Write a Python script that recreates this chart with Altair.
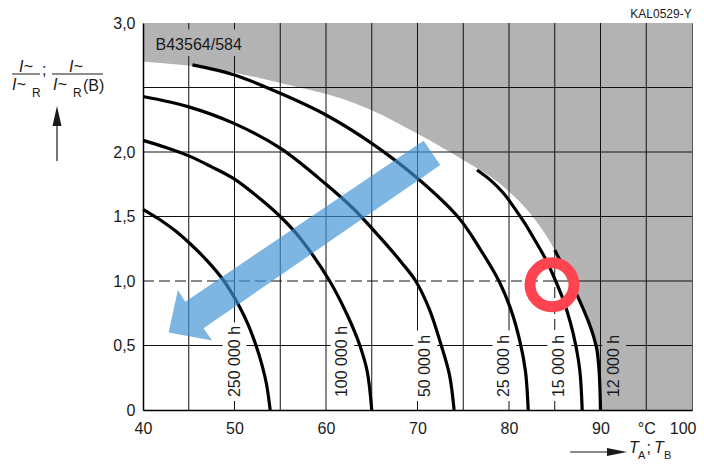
import altair as alt
import pandas as pd

FONT = "Liberation Sans"
INK = "#1a1a1a"
GRAY = "#b3b3b3"
BLUE = "#3f93d4"
RED = "#ff4451"

# ---------------- axes / grid ----------------
x_ticks = [40, 50, 60, 70, 80, 90, 95, 100]
y_ticks = [0, 0.5, 1.0, 1.5, 2.0, 3.0]
v_grid_T = [45, 50, 55, 60, 65, 70, 75, 80, 90, 95]
h_grid_v = [0.5, 1.5, 2.0, 2.5]
ref_T = 85.0     # marked temperature (dashed)
ref_v = 1.0      # marked current ratio (dashed)

# ---------------- lifetime curves ----------------
names = ["250 000 h", "100 000 h", "50 000 h", "25 000 h", "15 000 h", "12 000 h"]
t_250k = [40.0, 41.9, 43.6, 45.3, 47.1, 48.85, 50.55, 51.5, 52.35, 53.0, 53.5, 53.9]
v_250k = [1.556, 1.473, 1.385, 1.279, 1.15, 1.0, 0.8, 0.66, 0.5, 0.35, 0.2, 0.0]
t_100k = [40.0, 42.5, 45.0, 47.5, 50.0, 52.5, 55.0, 57.2, 60.4, 62.3, 63.7, 64.5, 65.0]
v_100k = [2.09, 2.035, 1.97, 1.885, 1.79, 1.655, 1.5, 1.33, 1.0, 0.74, 0.5, 0.3, 0.0]
t_50k = [40.0, 45.0, 50.0, 55.0, 60.0, 63.0, 66.0, 68.3, 69.8, 71.3, 72.6, 73.5, 74.0]
v_50k = [2.43, 2.35, 2.22, 2.03, 1.75, 1.56, 1.33, 1.14, 1.0, 0.78, 0.5, 0.27, 0.0]
t_25k = [45.4, 50.0, 55.0, 60.0, 65.0, 70.0, 74.5, 77.0, 78.9, 80.2, 81.2, 81.8, 82.1]
v_25k = [2.675, 2.597, 2.455, 2.287, 2.067, 1.796, 1.49, 1.23, 1.0, 0.78, 0.53, 0.3, 0.0]
t_15k = [76.5, 78.0, 79.4, 80.6, 81.7, 82.8, 84.0, 85.1, 86.0, 86.7, 87.3, 87.75, 88.0]
v_15k = [1.86, 1.78, 1.68, 1.565, 1.45, 1.32, 1.17, 1.0, 0.84, 0.68, 0.5, 0.3, 0.0]
t_12k = [85.0, 86.0, 87.0, 87.8, 88.6, 89.2, 89.6, 89.85, 90.0]
v_12k = [1.24, 1.1, 0.955, 0.835, 0.7, 0.58, 0.47, 0.3, 0.0]
curve_T = [t_250k, t_100k, t_50k, t_25k, t_15k, t_12k]
curve_v = [v_250k, v_100k, v_50k, v_25k, v_15k, v_12k]
label_T = [50.0, 61.8, 70.85, 79.5, 85.5, 91.5]

# ---------------- limit envelope (grey region) ----------------
env_T = [40.0, 45.0, 50.0, 55.0, 58.3, 61.6, 64.8, 69.9, 75.0, 79.4, 82.3, 84.0, 85.0]
env_v = [2.70, 2.67, 2.615, 2.535, 2.48, 2.416, 2.33, 2.145, 1.938, 1.731, 1.525, 1.36, 1.24]

# ---------------- blue arrow (polygon) & red marker ----------------
arrow_T = [70.67, 72.49, 46.62, 47.55, 42.8, 43.81, 44.62]
arrow_v = [2.088, 1.899, 0.633, 0.539, 0.601, 0.930, 0.839]
ring_T = [84.7]
ring_v = [0.97]

model = "B43564/584"
model_T, model_v = 41.37, 2.79
code = "KAL0529-Y"

# =====================================================
xs = alt.Scale(domain=[40, 100], nice=False, zero=False)
ys = alt.Scale(domain=[0, 3], nice=False, zero=False)
x_axis = alt.Axis(values=x_ticks, labelExpr="datum.value == 95 ? '°C' : datum.label",
                  labelAlign={"condition": {"test": "datum.value == 100", "value": "right"},
                              "value": "center"},
                  labelOffset={"condition": {"test": "datum.value == 100", "value": 4},
                               "value": 0},
                  grid=False, ticks=False, tickSize=0, domainColor="black", domainWidth=1.5,
                  labelFont=FONT, labelFontSize=16, labelColor=INK, labelPadding=10,
                  labelFlush=False, labelOverlap=False, title=None, zindex=1)
y_axis = alt.Axis(values=y_ticks,
                  labelExpr="datum.value == 0 ? '0' : replace(format(datum.value, '.1f'), '.', ',')",
                  grid=False, ticks=False, tickSize=0, domainColor="black", domainWidth=1.5,
                  labelFont=FONT, labelFontSize=16, labelColor=INK, labelPadding=8,
                  labelFlush=False, labelOverlap=False, title=None, zindex=1)


def X(f):
    return alt.X(f, type="quantitative", scale=xs, axis=x_axis, title=None)


def Y(f):
    return alt.Y(f, type="quantitative", scale=ys, axis=y_axis, title=None)


layers = []

# grey region
gray_df = pd.DataFrame({"T": env_T + t_12k[1:] + [100.0],
                        "v": env_v + v_12k[1:] + [0.0]})
gray_df["top"] = 3.0
layers.append(alt.Chart(gray_df).mark_area(color=GRAY, interpolate="monotone", opacity=1)
              .encode(x=X("T"), y=Y("v"), y2="top"))

# grid
solid_rows = [(t, t, 0.0, 3.0) for t in v_grid_T] + [(ref_T, ref_T, ref_v, 3.0)]
solid_rows += [(40.0, 100.0, v, v) for v in h_grid_v] + [(ref_T, 100.0, ref_v, ref_v)]
solid_df = pd.DataFrame(solid_rows, columns=["T", "T2", "v", "v2"])
layers.append(alt.Chart(solid_df).mark_rule(color="#111", strokeWidth=1)
              .encode(x=X("T"), x2="T2", y=Y("v"), y2="v2"))
dash_df = pd.DataFrame([(ref_T, ref_T, 0.0, ref_v), (40.0, ref_T, ref_v, ref_v)],
                       columns=["T", "T2", "v", "v2"])
layers.append(alt.Chart(dash_df).mark_rule(color="#111", strokeWidth=1, strokeDash=[11, 5])
              .encode(x=X("T"), x2="T2", y=Y("v"), y2="v2"))

# label backgrounds
box_df = pd.DataFrame({"T": [t - 1.3 for t in label_T], "T2": [t + 1.3 for t in label_T],
                       "v": [0.07] * 6, "v2": [0.12 + 0.062 * len(n) for n in names],
                       "fill": ["white"] * 5 + [GRAY]})
layers.append(alt.Chart(box_df).mark_rect(opacity=1)
              .encode(x=X("T"), x2="T2", y=Y("v"), y2="v2", color=alt.Color("fill:N", scale=None)))
model_box = pd.DataFrame({"T": [40.8], "T2": [51.3], "v": [2.745], "v2": [2.95]})
layers.append(alt.Chart(model_box).mark_rect(color=GRAY, opacity=1)
              .encode(x=X("T"), x2="T2", y=Y("v"), y2="v2"))

# curves
rows = []
for n, ts, vs in zip(names, curve_T, curve_v):
    for i, (t, v) in enumerate(zip(ts, vs)):
        rows.append((n, i, t, v))
cdf = pd.DataFrame(rows, columns=["name", "i", "T", "v"])
layers.append(alt.Chart(cdf).mark_line(color="black", strokeWidth=3.2, interpolate="catmull-rom")
              .encode(x=X("T"), y=Y("v"), detail="name:N", order="i:Q"))

# curve labels
ldf = pd.DataFrame({"T": label_T, "v": [0.1] * 6, "text": names})
layers.append(alt.Chart(ldf).mark_text(angle=270, align="left", baseline="middle", font=FONT,
                                       fontSize=16, color=INK)
              .encode(x=X("T"), y=Y("v"), text="text:N"))

# model label
mdf = pd.DataFrame({"T": [model_T], "v": [model_v], "text": [model]})
layers.append(alt.Chart(mdf).mark_text(align="left", baseline="alphabetic", font=FONT,
                                       fontSize=16, color=INK)
              .encode(x=X("T"), y=Y("v"), text="text:N"))

# blue arrow
adf = pd.DataFrame({"T": arrow_T, "v": arrow_v, "i": list(range(len(arrow_T)))})
layers.append(alt.Chart(adf).mark_line(filled=True, interpolate="linear-closed", color=BLUE,
                                       opacity=0.68, strokeWidth=0)
              .encode(x=X("T"), y=Y("v"), order="i:Q"))

# red ring
rdf = pd.DataFrame({"T": ring_T, "v": ring_v})
layers.append(alt.Chart(rdf).mark_point(shape="circle", size=1936, filled=False, strokeWidth=11,
                                        color=RED, opacity=1)
              .encode(x=X("T"), y=Y("v")))


# ---------------- annotations outside the plot (pixel positions) ----------------
def ptext(text, px, py, size=16, italic=False, align="left"):
    return (alt.Chart(pd.DataFrame({"t": [text]}))
            .mark_text(align=align, baseline="alphabetic", font=FONT, fontSize=size,
                       fontStyle="italic" if italic else "normal", color=INK)
            .encode(x=alt.value(px), y=alt.value(py), text="t:N"))


def prule(x1, y1, x2, y2, w=1.0):
    return (alt.Chart(pd.DataFrame({"a": [0]})).mark_rule(color=INK, strokeWidth=w)
            .encode(x=alt.value(x1), x2=alt.value(x2), y=alt.value(y1), y2=alt.value(y2)))


def phead(shape, px, py):
    return (alt.Chart(pd.DataFrame({"a": [0]}))
            .mark_point(shape=shape, size=400, filled=True, color=INK, opacity=1, strokeWidth=0)
            .encode(x=alt.value(px), y=alt.value(py)))


# y-axis title: I~/I~R ; I~/I~R(B)
layers += [
    ptext("I~", -117, 49, 16, True, "center"),
    prule(-131, 51, -103, 51),
    ptext("I~", -131, 67, 16, True),
    ptext("R", -111, 74, 12),
    ptext(";", -101, 51.5, 16),
    ptext("I~", -67, 49, 16, True, "center"),
    prule(-91, 51, -40, 51),
    ptext("I~", -90, 67, 16, True),
    ptext("R", -70, 74, 12),
    ptext("(B)", -60, 68, 16),
    prule(-86, 100, -86, 138, 1.2),
    phead("M0,-1L0.45,1L-0.45,1Z", -86, 93),
]
# x-axis title: -> T_A ; T_B
layers += [
    prule(427, 429, 467, 429, 1.2),
    phead("M1,0L-1,-0.4L-1,0.4Z", 474, 429),
    ptext("T", 486, 430, 16, True),
    ptext("A", 495, 436, 11),
    ptext(";", 503.5, 430, 16),
    ptext("T", 511, 430, 16, True),
    ptext("B", 521, 436, 11),
]
# drawing code
layers.append(ptext(code, 548.7, -4.7, 12, False, "right"))

chart = (alt.layer(*layers)
         .properties(width=549, height=387, autosize=alt.AutoSizeParams(type="none"),
                     padding={"left": 135, "top": 15, "right": 4, "bottom": 52})
         .configure_view(stroke="#555", strokeWidth=1))

chart.save("out.html", embed_options={"renderer": "svg", "actions": False})
